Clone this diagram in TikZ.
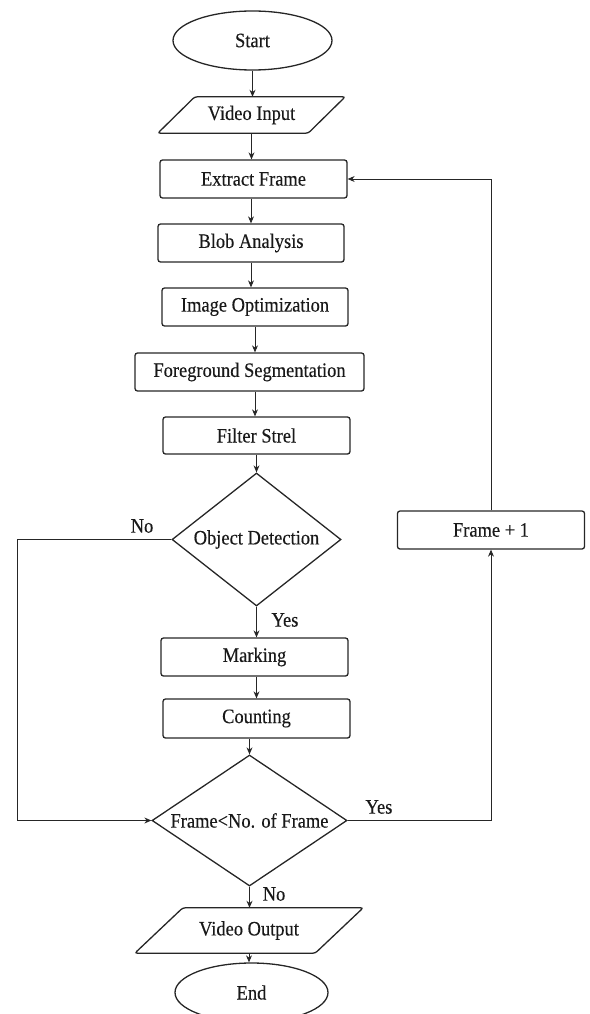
\documentclass[tikz,border=0pt]{standalone}
\usepackage{fontspec}
\setmainfont{Liberation Serif}[FakeStretch=0.9,FakeBold=0.3]
\usetikzlibrary{shapes.geometric,arrows.meta}
\begin{document}
\begin{tikzpicture}[x=1pt,y=-1pt,
  every node/.style={font=\fontsize{20.5}{24}\selectfont, inner sep=0pt, text=black!90},
  procbox/.style={draw=black!85, rectangle, rounded corners=2.5pt, line width=1.3pt, minimum width=187pt, minimum height=38pt},
  termnode/.style={draw=black!85, ellipse, line width=1.3pt},
  decnode/.style={draw=black!85, diamond, line width=1.3pt},
  iohold/.style={rectangle, minimum height=36pt},
  iofrm/.style={draw=black!85, line width=1.3pt, rounded corners=2.5pt},
  conn/.style={draw=black!85, line width=0.9pt, -{Stealth[length=7pt,width=6pt]}}
]
\useasboundingbox (0,0) rectangle (589,1014);
\clip (0,0) rectangle (589,1014);

% nodes
\node[termnode, minimum width=159pt, minimum height=59pt] (start) at (252.5,40.5) {Start};
\node[iohold, minimum width=150pt] (vin) at (251.5,115) {Video Input};
\draw[iofrm] ([xshift=18.5pt]vin.north west) -- ([xshift=18.5pt]vin.north east)
   -- ([xshift=-18.5pt]vin.south east) -- ([xshift=-18.5pt]vin.south west) -- cycle;
\node[procbox] (extract) at (253.5,179) {Extract Frame};
\node[procbox, minimum width=186pt] (blob) at (251,243) {Blob Analysis};
\node[procbox, minimum width=186pt] (imgopt) at (255,307) {Image Optimization};
\node[procbox, minimum width=229pt] (fg) at (249.5,372) {Foreground Segmentation};
\node[procbox, minimum height=37pt] (filter) at (256.5,435.5) {Filter Strel};
\node[decnode, aspect=1.27, minimum width=169pt, minimum height=133pt] (objdet) at (256.5,539.5) {Object Detection};
\node[procbox] (marking) at (254.5,657) {Marking};
\node[procbox, minimum height=39pt] (counting) at (256.5,718.5) {Counting};
\node[decnode, aspect=1.49, minimum width=195pt, minimum height=131pt] (frcmp) at (249.5,820.5) {Frame<No. of Frame};
\node[iohold, minimum width=180pt, minimum height=45pt] (vout) at (249,930.5) {Video Output};
\draw[iofrm] ([xshift=24pt]vout.north west) -- ([xshift=24pt]vout.north east)
   -- ([xshift=-24pt]vout.south east) -- ([xshift=-24pt]vout.south west) -- cycle;
\node[termnode, minimum width=153pt, minimum height=59pt] (endn) at (251.5,992.5) {End};
\node[procbox] (frameplus) at (491,530) {Frame + 1};

% labels
\node (no1) at (142,526) {No};
\node (yes1) at (285,620) {Yes};
\node (yes2) at (379,807) {Yes};
\node (no2) at (274,894) {No};

\coordinate (lx) at (17,0);

% connectors
\draw[conn] (start.south) -- (start.south |- vin.north);
\draw[conn] (vin.south) -- (vin.south |- extract.north);
\draw[conn] (blob.north |- extract.south) -- (blob.north);
\draw[conn] (blob.south) -- (blob.south |- imgopt.north);
\draw[conn] (imgopt.south) -- (imgopt.south |- fg.north);
\draw[conn] (imgopt.south |- fg.south) -- (imgopt.south |- filter.north);
\draw[conn] (filter.south) -- (objdet.north);
\draw[conn] (objdet.south) -- (objdet.south |- marking.north);
\draw[conn] (objdet.south |- marking.south) -- (objdet.south |- counting.north);
\draw[conn] (frcmp.north |- counting.south) -- (frcmp.north);
\draw[conn] (frcmp.south) -- (frcmp.south |- vout.north);
\draw[conn] (vout.south) -- (vout.south |- endn.north);
\draw[conn] (objdet.west) -- (objdet.west -| lx) |- (frcmp.west);
\draw[conn] (frcmp.east) -| (frameplus.south);
\draw[conn] (frameplus.north) |- (extract.east);
\end{tikzpicture}
\end{document}
